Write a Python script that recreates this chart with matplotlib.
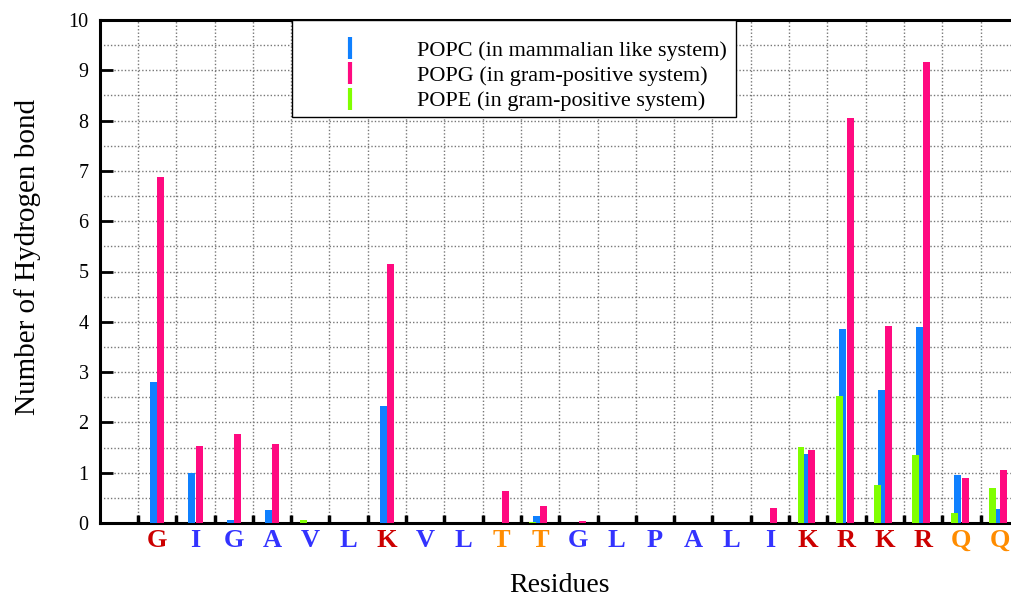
import matplotlib
matplotlib.use("Agg")
import matplotlib.pyplot as plt
from matplotlib.lines import Line2D
from matplotlib.patches import Rectangle
from matplotlib.ticker import MultipleLocator, FixedLocator
import numpy as np

residues = ['G', 'I', 'G', 'A', 'V', 'L', 'K', 'V', 'L', 'T', 'T', 'G',
            'L', 'P', 'A', 'L', 'I', 'K', 'R', 'K', 'R', 'Q', 'Q']
label_colors = ['#cc0000', '#3333ff', '#3333ff', '#3333ff', '#3333ff', '#3333ff',
                '#cc0000', '#3333ff', '#3333ff', '#ff8c00', '#ff8c00', '#3333ff',
                '#3333ff', '#3333ff', '#3333ff', '#3333ff', '#3333ff', '#cc0000',
                '#cc0000', '#cc0000', '#cc0000', '#ff8c00', '#ff8c00']
popc = [2.81, 0.99, 0.05, 0.25, 0, 0, 2.33, 0, 0, 0, 0.13, 0, 0, 0, 0, 0, 0,
        1.38, 3.86, 2.65, 3.90, 0.96, 0.27]
popg = [6.88, 1.53, 1.76, 1.58, 0, 0, 5.15, 0, 0, 0.64, 0.34, 0.03, 0, 0, 0, 0,
        0.30, 1.45, 8.05, 3.91, 9.17, 0.89, 1.06]
pope = [0, 0, 0, 0, 0.06, 0, 0, 0, 0, 0, 0.02, 0, 0, 0, 0, 0, 0,
        1.51, 2.52, 0.76, 1.36, 0.20, 0.70]
series_names = ['POPC (in mammalian like system)',
                'POPG (in gram-positive system)',
                'POPE (in gram-positive system)']
c_blue, c_pink, c_green = '#0f80ff', '#ff0a80', '#80ff00'

plt.rcParams['font.family'] = ['Liberation Serif', 'DejaVu Serif']

W, H = 1011, 597
fig = plt.figure(figsize=(W / 100, H / 100), dpi=100)
x0, ytop, ybot = 99.7, 20.0, 523.0
step = 38.3
nslots = 24
axw = nslots * step
axh = ybot - ytop
ax = fig.add_axes([x0 / W, (H - ybot) / H, axw / W, axh / H])

x = np.arange(1, len(residues) + 1) + 0.5
bw = 0.18
ax.bar(x - 0.095, popc, width=bw, color=c_blue, zorder=3)
ax.bar(x + 0.095, popg, width=bw, color=c_pink, zorder=3)
ax.bar(x - 0.19, pope, width=bw, color=c_green, zorder=4)

ax.set_xlim(0, nslots)
ax.set_ylim(0, 10)

# y axis
ax.yaxis.set_major_locator(MultipleLocator(1))
ax.yaxis.set_minor_locator(MultipleLocator(0.5))
ax.tick_params(axis='y', which='major', direction='in', length=9, width=2,
               labelsize=14.5, pad=8, right=False)
ax.tick_params(axis='y', which='minor', length=0)

# x axis: major ticks at boundaries, minor (labels) at centers
ax.xaxis.set_major_locator(FixedLocator(np.arange(1, len(residues) + 1)))
ax.xaxis.set_minor_locator(FixedLocator(x))
ax.tick_params(axis='x', which='major', direction='in', length=6, width=2.5,
               labelbottom=False, top=False)
ax.tick_params(axis='x', which='minor', length=0, labelsize=19, pad=4.5)
ax.set_xticklabels(residues, minor=True)
for lbl, c in zip(ax.get_xticklabels(minor=True), label_colors):
    lbl.set_color(c)
    lbl.set_fontweight('bold')

ax.grid(True, axis='x', which='major', color='#777777', linestyle=(0, (1, 1.5)), lw=1)
ax.grid(True, axis='y', which='both', color='#777777', linestyle=(0, (1, 1.5)), lw=1)
ax.set_axisbelow(True)

for s in ax.spines.values():
    s.set_linewidth(2.2)
    s.set_color('black')

ax.set_xlabel('Residues', fontsize=20, labelpad=15)
ax.set_ylabel('Number of Hydrogen bond', fontsize=21, labelpad=20, y=0.529)

# legend frame
fx0, fx1, fy0, fy1 = 292, 736, 21, 117
ax.add_patch(Rectangle(((fx0 - x0) / axw, (ybot - fy1) / axh),
                       (fx1 - fx0) / axw, 1.0 - (ybot - fy1) / axh,
                       transform=ax.transAxes, facecolor='white',
                       edgecolor='black', lw=1.0, zorder=9, clip_on=False))

handles = [Line2D([], [], color=c, marker='|', linestyle='None', markersize=16,
                  markeredgewidth=3) for c in (c_blue, c_pink, c_green)]
leg = ax.legend(handles, series_names, loc='upper left',
                bbox_to_anchor=((281 - x0) / axw, 1.0),
                borderaxespad=0, fontsize=16, frameon=False,
                handlelength=4.4, handletextpad=0.8, labelspacing=0.22,
                borderpad=0.9)
leg.set_zorder(10)

fig.savefig('out.png', dpi=100)
